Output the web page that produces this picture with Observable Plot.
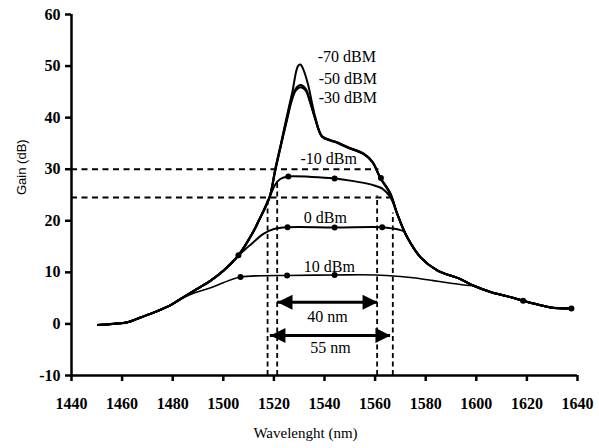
<!DOCTYPE html>
<html><head><meta charset="utf-8">
<script src="https://cdn.jsdelivr.net/npm/d3@7"></script>
<script src="https://cdn.jsdelivr.net/npm/@observablehq/plot@0.6"></script>
<style>
body{margin:0;background:#fff;}
</style></head><body><div id="chart"></div>
<script>
// ---- data (wavelength nm, gain dB) ----
const xTicks = [1440,1460,1480,1500,1520,1540,1560,1580,1600,1620,1640];
const yTicks = [-10,0,10,20,30,40,50,60];

const riseShared = [[1450.5,-0.2],[1456,0],[1462,0.3],[1467,1.2],[1473,2.3],[1479,3.6],[1483,4.8]];
const riseSteep = [[1489,6.6],[1495,8.4],[1500,10.3],[1506,13.3]];
const steepUp = [[1512,18.0],[1514,20.0],[1518.3,24.6]];
const tailShared = [[1568.7,21.4],[1572.7,16.8],[1578,12.9],[1584.5,10.4],[1593.7,8.7],[1599,7.4],[1605.6,6.2],[1613.5,5.2],[1618.5,4.5],[1624,3.8],[1629.3,3.2],[1637.6,3.0]];

const s70 = [...riseShared, ...riseSteep, ...steepUp,
  [1520.5,30],[1522.8,35],[1525,40],[1527.3,45],[1529.5,50],[1530.5,50.3],[1531.5,49.5],[1533.4,46.6],[1535,43],[1536.4,40],[1539,36.4],
  [1542.5,35.6],[1545,35.2],[1549,34.3],[1555.5,33],[1559,31.4],[1562,28.4],[1566,25.3], ...tailShared];
const s50 = [...riseShared, ...riseSteep, ...steepUp,
  [1520.5,29.8],[1522.8,34.8],[1525.2,40],[1526.8,43.3],[1528.5,45.5],[1530.5,46.3],[1532.5,45.6],[1534.2,43.3],[1536.2,40],[1539,36.4],
  [1542.5,35.6],[1545,35.2],[1549,34.3],[1555.5,33],[1559,31.4],[1562,28.4],[1566,25.3], ...tailShared];
const s30 = [...riseShared, ...riseSteep, ...steepUp,
  [1520.5,29.6],[1522.8,34.6],[1525.3,39.8],[1527,43.2],[1528.7,45.3],[1530.5,45.9],[1532.5,45.3],[1534.3,43.0],[1536.3,39.8],[1539,36.3],
  [1542.5,35.5],[1545,35.1],[1549,34.2],[1555.5,32.9],[1559,31.3],[1562,28.3],[1566,25.2], ...tailShared];
const s10m = [...riseShared, ...riseSteep, ...steepUp,
  [1520.5,27.0],[1522.5,28.1],[1525.7,28.6],[1535,28.5],[1544,28.2],[1550,27.8],[1556,27.3],[1560,26.8],[1563,26.2],[1566,24.6], ...tailShared];
const s0 = [...riseShared, ...riseSteep,
  [1509,14.6],[1512,15.9],[1516,17.5],[1520,18.4],[1525.4,18.75],[1544,18.7],[1562.8,18.75],[1567,18.5],[1570,18.2],[1571.5,17.9], ...tailShared.slice(1)];
const s10 = [...riseShared,
  [1489,6.1],[1495,7.0],[1500,8.0],[1506.8,9.1],[1515,9.35],[1525.2,9.4],[1544,9.5],[1560,9.5],[1570,9.2],[1576,8.9],[1583,8.4],[1590,7.9],[1596,7.5],[1599,7.4], ...tailShared.slice(6)];

const markers = [[1506,13.3],[1506.8,9.1],[1525.2,9.4],[1544,9.5],[1525.4,18.75],[1544,18.7],[1562.8,18.75],
  [1525.7,28.6],[1544,28.2],[1562.3,28.3],[1618.5,4.5],[1637.6,3.0]];

const curveLabels = ["-70 dBM","-50 dBM","-30 dBM","-10 dBm","0 dBm","10 dBm"];
const curveLabelX = [1537.3,1537.7,1537.7,1530.5,1531.8,1531.8];
const curveLabelY = [51.8,47.6,43.8,32.1,20.5,11.1];

// dashed guide lines
const hGuideY = [30, 24.5];
const hGuideEnd = [1561.5, 1567];
const vGuideX = [1517.5, 1521.3, 1560.8, 1567];
const vGuideTop = [24.5, 27.8, 24.8, 21.5];

// bandwidth arrows
const bandLabels = ["40 nm","55 nm"];
const bandStart = [1521.4, 1518.6];
const bandEnd = [1561, 1566.1];
const bandY = [4.2, -2.25];
const bandLabelY = [1.3, -4.7];

// ---- build ----
const SERIF = '"Liberation Serif", "Times New Roman", serif';
const SANS = '"Liberation Sans", Arial, sans-serif';
const hGuides = hGuideY.map((y,i)=>({y, x2: hGuideEnd[i]}));
const vGuides = vGuideX.map((x,i)=>({x, top: vGuideTop[i]}));
const bands = bandLabels.map((t,i)=>({t, x1: bandStart[i], x2: bandEnd[i], y: bandY[i], ly: bandLabelY[i], xm:(bandStart[i]+bandEnd[i])/2}));
const labels = curveLabels.map((t,i)=>({t, x: curveLabelX[i], y: curveLabelY[i]}));

const headRight = {draw(ctx, size){const s=Math.sqrt(size); ctx.moveTo(0,0); ctx.lineTo(-s,-s/2); ctx.lineTo(-s,s/2); ctx.closePath();}};
const headLeft = {draw(ctx, size){const s=Math.sqrt(size); ctx.moveTo(0,0); ctx.lineTo(s,-s/2); ctx.lineTo(s,s/2); ctx.closePath();}};

const line = (data, w) => Plot.line(data, {x: d=>d[0], y: d=>d[1], stroke: "black", strokeWidth: w, curve: "catmull-rom"});

const chart = Plot.plot({
  width: 599, height: 448,
  marginLeft: 71, marginRight: 22, marginTop: 14, marginBottom: 73,
  style: {fontFamily: SERIF, background: "#fff"},
  x: {domain: [1440, 1640]},
  y: {domain: [-10, 60]},
  marks: [
    // dashed guides
    Plot.ruleY(hGuides, {y: "y", x1: 1440, x2: "x2", stroke: "black", strokeWidth: 2, strokeDasharray: "6,4.5"}),
    Plot.ruleX(vGuides, {x: "x", y1: -10, y2: "top", stroke: "black", strokeWidth: 1.8, strokeDasharray: "5,3.5"}),
    // curves
    line(s10, 1.6),
    line(s0, 1.9),
    line(s10m, 2),
    line(s30, 2),
    line(s50, 2.2),
    line(s70, 2),
    Plot.dot(markers, {x: d=>d[0], y: d=>d[1], r: 3, fill: "black", stroke: "none"}),
    // arrows
    Plot.ruleY(bands, {y: "y", x1: "x1", x2: "x2", stroke: "black", strokeWidth: 3}),
    Plot.dot(bands, {x: "x2", y: "y", symbol: headRight, r: 8.5, fill: "black", stroke: "none"}),
    Plot.dot(bands, {x: "x1", y: "y", symbol: headLeft, r: 8.5, fill: "black", stroke: "none"}),
    Plot.text(bands, {x: "xm", y: "ly", text: "t", fontSize: 16, fontFamily: SERIF, fill: "black"}),
    // curve labels
    Plot.text(labels, {x: "x", y: "y", text: "t", textAnchor: "start", fontSize: 16, fontFamily: SERIF, fill: "black"}),
    // axes
    Plot.ruleX([1440], {y1: -10, y2: 60, stroke: "black", strokeWidth: 2.5}),
    Plot.ruleY([-10], {x1: 1440, x2: 1640, stroke: "black", strokeWidth: 2.5}),
    Plot.axisY({ticks: yTicks, tickFormat: d => String(d), tickSize: 6, tickPadding: 5, strokeWidth: 2.5, fontSize: 16, fontWeight: "bold", fontFamily: SERIF, label: null}),
    Plot.axisX({ticks: xTicks, tickFormat: d => String(d), tickSize: 6, tickPadding: 16, strokeWidth: 2.5, fontSize: 16, fontWeight: "bold", fontFamily: SERIF, label: null}),
    Plot.text(["Wavelenght (nm)"], {frameAnchor: "bottom", dx: -19, dy: 62, fontSize: 15, fontFamily: SERIF, fill: "black"}),
    Plot.text(["Gain (dB)"], {frameAnchor: "left", dx: -50, rotate: -90, fontSize: 13, fontFamily: SANS, fill: "black"})
  ]
});
document.getElementById("chart").appendChild(chart);
</script></body></html>
